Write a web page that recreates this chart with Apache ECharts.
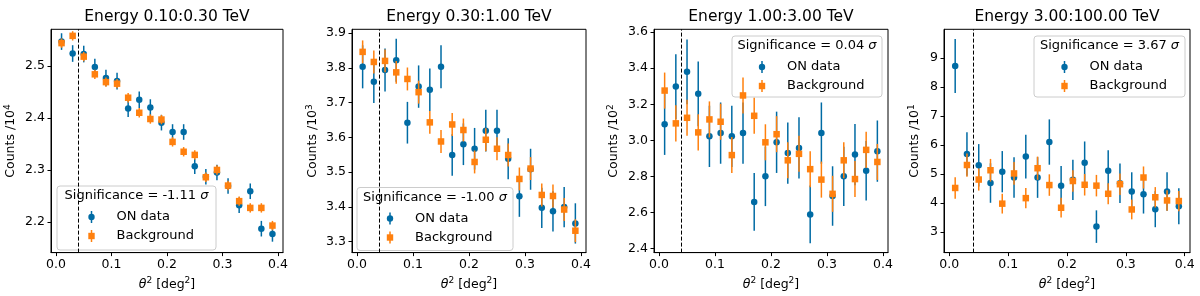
<!DOCTYPE html>
<html><head><meta charset="utf-8">
<script src="https://cdn.jsdelivr.net/npm/echarts@6/dist/echarts.min.js"></script>
<style>html,body{margin:0;padding:0;background:#fff}#c{width:1200px;height:296px}</style>
</head><body><div id="c"></div>
<script>
// ---------------- data ----------------
const theta2 = [0.01,0.03,0.05,0.07,0.09,0.11,0.13,0.15,0.17,0.19,0.21,0.23,0.25,0.27,0.29,0.31,0.33,0.35,0.37,0.39];
const cutValue = 0.04;
const titles = ['Energy 0.10:0.30 TeV','Energy 0.30:1.00 TeV','Energy 1.00:3.00 TeV','Energy 3.00:100.00 TeV'];
const significance = ['-1.11','-1.00','0.04','3.67'];
const yExponent = ['4','3','2','1'];
const xTicks = [0, 0.1, 0.2, 0.3, 0.4];
const xTickLabels = ['0.0','0.1','0.2','0.3','0.4'];

const on1 = [2.547,2.524,2.523,2.498,2.477,2.471,2.418,2.435,2.420,2.391,2.373,2.373,2.307,2.287,2.295,2.269,2.232,2.259,2.187,2.177];
const bg1 = [2.544,2.558,2.518,2.484,2.469,2.466,2.439,2.410,2.398,2.397,2.354,2.335,2.329,2.286,2.300,2.270,2.240,2.227,2.227,2.193];
const onErr1 = [0.016,0.016,0.016,0.016,0.016,0.016,0.016,0.016,0.016,0.015,0.015,0.015,0.015,0.015,0.015,0.015,0.015,0.015,0.015,0.015];
const bgErr1 = [0.009,0.009,0.009,0.009,0.009,0.009,0.009,0.009,0.009,0.009,0.009,0.009,0.009,0.009,0.009,0.009,0.009,0.009,0.009,0.009];

const on2 = [3.803,3.760,3.794,3.822,3.642,3.746,3.737,3.803,3.549,3.580,3.567,3.619,3.619,3.538,3.430,3.508,3.397,3.387,3.399,3.352];
const bg2 = [3.846,3.817,3.820,3.787,3.768,3.730,3.643,3.588,3.637,3.621,3.529,3.593,3.567,3.549,3.480,3.510,3.434,3.431,3.392,3.331];
const onErr2 = [0.062,0.061,0.062,0.062,0.060,0.061,0.061,0.062,0.060,0.060,0.060,0.060,0.060,0.059,0.059,0.059,0.058,0.058,0.058,0.058];
const bgErr2 = [0.033,0.033,0.033,0.033,0.033,0.033,0.033,0.033,0.033,0.033,0.033,0.033,0.033,0.033,0.033,0.033,0.033,0.033,0.033,0.033];

const on3 = [3.089,3.298,3.380,3.258,3.022,3.040,3.022,3.040,2.658,2.800,2.989,2.929,2.958,2.589,3.040,2.691,2.800,2.921,2.831,2.940];
const bg3 = [3.276,3.094,3.125,3.044,3.116,3.103,2.918,3.249,3.136,2.989,3.034,2.889,2.925,2.840,2.782,2.703,2.889,2.785,2.947,2.880];
const onErr3 = [0.170,0.180,0.180,0.180,0.170,0.170,0.170,0.170,0.160,0.165,0.170,0.170,0.170,0.160,0.170,0.165,0.165,0.170,0.165,0.170];
const bgErr3 = [0.100,0.100,0.100,0.100,0.100,0.100,0.100,0.100,0.100,0.100,0.100,0.100,0.100,0.100,0.100,0.100,0.100,0.100,0.100,0.100];

const on4 = [8.72,5.69,5.30,4.69,5.08,4.88,5.60,4.88,6.10,4.60,4.80,5.39,3.19,5.11,4.68,4.40,4.30,3.79,4.40,3.89];
const bg4 = [4.52,5.31,4.81,5.13,3.98,5.02,4.17,5.20,4.62,3.84,4.76,4.63,4.60,4.32,4.65,3.78,4.88,4.20,4.09,4.07];
const onErr4 = [0.93,0.75,0.73,0.68,0.71,0.70,0.75,0.70,0.78,0.68,0.69,0.73,0.56,0.71,0.68,0.66,0.66,0.62,0.66,0.62];
const bgErr4 = [0.37,0.40,0.38,0.39,0.34,0.39,0.35,0.40,0.37,0.34,0.37,0.37,0.37,0.36,0.37,0.34,0.38,0.35,0.35,0.35];

const yTicks1 = [2.2,2.3,2.4,2.5];           const yTickLabels1 = ['2.2','2.3','2.4','2.5'];
const yTicks2 = [3.3,3.4,3.5,3.6,3.7,3.8,3.9]; const yTickLabels2 = ['3.3','3.4','3.5','3.6','3.7','3.8','3.9'];
const yTicks3 = [2.4,2.6,2.8,3.0,3.2,3.4,3.6]; const yTickLabels3 = ['2.4','2.6','2.8','3.0','3.2','3.4','3.6'];
const yTicks4 = [3,4,5,6,7,8,9];             const yTickLabels4 = ['3','4','5','6','7','8','9'];
const yRanges = [[2.141,2.5706],[3.268,3.911],[2.377,3.616],[2.296,9.98]];
const xRange = [-0.009, 0.409];

// ---------------- layout / style ----------------
const FONT = 'DejaVu Sans';
const BLUE = '#006BA4', ORANGE = '#FF800E';
const TOP = 29.3, HEIGHT = 227.2;
const GRIDS = [{left:51,width:232},{left:352,width:234},{left:654,width:234},{left:944,width:246}];
const NAMEGAP = [32,31,32,21];
const LEGBOX = [{x:57,y:186,w:159,h:64},{x:357,y:187.5,w:156,h:63},{x:732,y:36,w:150,h:61},{x:1034,y:36,w:151,h:61}];

const ons = [on1,on2,on3,on4], bgs = [bg1,bg2,bg3,bg4];
const onErrs = [onErr1,onErr2,onErr3,onErr4], bgErrs = [bgErr1,bgErr2,bgErr3,bgErr4];
const yTicks = [yTicks1,yTicks2,yTicks3,yTicks4];
const yTickLabels = [yTickLabels1,yTickLabels2,yTickLabels3,yTickLabels4];

function labelFor(ticks, labels){
  return function(v){
    for (let k=0;k<ticks.length;k++) if (Math.abs(ticks[k]-v) < 1e-6) return labels[k];
    return '';
  };
}
function errBar(params, api){
  const x = api.value(0), y = api.value(1), e = api.value(2);
  const a = api.coord([x, y - e]), b = api.coord([x, y + e]);
  return {type:'line', shape:{x1:a[0], y1:a[1], x2:b[0], y2:b[1]},
          style:{stroke: api.visual('color'), lineWidth:1.5}};
}

const grid = [], xAxis = [], yAxis = [], series = [], graphic = [];
for (let i=0;i<4;i++){
  grid.push({left:GRIDS[i].left, width:GRIDS[i].width, top:TOP, height:HEIGHT,
    show:true, borderColor:'#000', borderWidth:1, backgroundColor:'transparent'});
  xAxis.push({type:'value', gridIndex:i, min:xRange[0], max:xRange[1],
    name:'{i|θ}{s|2}{n| [deg}{s|2}{n|]}', nameLocation:'middle', nameGap:22,
    nameTextStyle:{rich:{
      n:{fontFamily:FONT, fontSize:12.5, color:'#000', lineHeight:16},
      i:{fontFamily:FONT, fontSize:12.5, color:'#000', fontStyle:'italic', lineHeight:16},
      s:{fontFamily:FONT, fontSize:9, color:'#000', verticalAlign:'top', lineHeight:16}}},
    axisLine:{show:true, onZero:false, lineStyle:{color:'#000', width:1}},
    axisTick:{show:true, length:3.5, inside:false, customValues:xTicks, lineStyle:{color:'#000', width:1}},
    axisLabel:{show:true, customValues:xTicks, margin:6, fontFamily:FONT, fontSize:12.5, color:'#000',
      formatter:labelFor(xTicks, xTickLabels)},
    splitLine:{show:false}});
  yAxis.push({type:'value', gridIndex:i, min:yRanges[i][0], max:yRanges[i][1],
    name:'{n|Counts /10}{s|'+yExponent[i]+'}', nameLocation:'middle', nameRotate:90, nameGap:NAMEGAP[i],
    nameTextStyle:{rich:{
      n:{fontFamily:FONT, fontSize:12.5, color:'#000', lineHeight:16},
      s:{fontFamily:FONT, fontSize:9, color:'#000', verticalAlign:'top', lineHeight:16}}},
    axisLine:{show:true, onZero:false, lineStyle:{color:'#000', width:1}},
    axisTick:{show:true, length:3.5, inside:false, customValues:yTicks[i], lineStyle:{color:'#000', width:1}},
    axisLabel:{show:true, customValues:yTicks[i], margin:6, fontFamily:FONT, fontSize:12.5, color:'#000',
      formatter:labelFor(yTicks[i], yTickLabels[i])},
    splitLine:{show:false}});

  const onData = theta2.map((x,k)=>[x, ons[i][k], onErrs[i][k]]);
  const bgData = theta2.map((x,k)=>[x, bgs[i][k], bgErrs[i][k]]);
  series.push({type:'custom', name:'ON data', xAxisIndex:i, yAxisIndex:i, renderItem:errBar,
    encode:{x:0,y:1}, data:onData, itemStyle:{color:BLUE}, z:2, silent:true});
  series.push({type:'scatter', name:'ON data', xAxisIndex:i, yAxisIndex:i, symbol:'circle', symbolSize:6.5,
    data:onData.map(d=>[d[0],d[1]]), itemStyle:{color:BLUE, opacity:1}, z:3, silent:true,
    markLine:{silent:true, symbol:['none','none'], label:{show:false},
      lineStyle:{color:'#000', type:[4,2], width:1}, data:[{xAxis:cutValue}], animation:false}});
  series.push({type:'custom', name:'Background', xAxisIndex:i, yAxisIndex:i, renderItem:errBar,
    encode:{x:0,y:1}, data:bgData, itemStyle:{color:ORANGE}, z:4, silent:true});
  series.push({type:'scatter', name:'Background', xAxisIndex:i, yAxisIndex:i, symbol:'rect', symbolSize:6.5,
    data:bgData.map(d=>[d[0],d[1]]), itemStyle:{color:ORANGE, opacity:1}, z:5, silent:true});

  // title
  const cxTitle = GRIDS[i].left + GRIDS[i].width/2;
  graphic.push({type:'text', x:cxTitle, y:16.5, z:100, silent:true,
    style:{text:titles[i], fontFamily:FONT, fontSize:15.5, fill:'#000', align:'center', verticalAlign:'middle'}});

  // legend
  const b = LEGBOX[i], cx = b.x + b.w/2;
  graphic.push({type:'group', z:100, silent:true, children:[
    {type:'rect', shape:{x:b.x, y:b.y, width:b.w, height:b.h, r:3},
      style:{fill:'rgba(255,255,255,0.8)', stroke:'#cccccc', lineWidth:1}},
    {type:'text', x:cx, y:b.y+10,
      style:{text:'{t|Significance = '+significance[i]+' }{s|σ}', align:'center', verticalAlign:'middle',
        fontFamily:FONT, fontSize:13, fill:'#000',
        rich:{t:{fontFamily:FONT, fontSize:13, fill:'#000'}, s:{fontFamily:FONT, fontSize:13, fontStyle:'italic', fill:'#000'}}}},
    {type:'line', shape:{x1:cx-45, y1:b.y+25, x2:cx-45, y2:b.y+37}, style:{stroke:BLUE, lineWidth:1.5}},
    {type:'circle', shape:{cx:cx-45, cy:b.y+31, r:3.2}, style:{fill:BLUE}},
    {type:'text', x:cx-20, y:b.y+31, style:{text:'ON data', fontFamily:FONT, fontSize:13, fill:'#000', align:'left', verticalAlign:'middle'}},
    {type:'line', shape:{x1:cx-45, y1:b.y+44, x2:cx-45, y2:b.y+56}, style:{stroke:ORANGE, lineWidth:1.5}},
    {type:'rect', shape:{x:cx-48.2, y:b.y+46.8, width:6.4, height:6.4}, style:{fill:ORANGE}},
    {type:'text', x:cx-20, y:b.y+50, style:{text:'Background', fontFamily:FONT, fontSize:13, fill:'#000', align:'left', verticalAlign:'middle'}}
  ]});
}

const chart = echarts.init(document.getElementById('c'), null, {renderer:'canvas'});
chart.setOption({animation:false, backgroundColor:'#fff', grid, xAxis, yAxis, series, graphic});
</script></body></html>
